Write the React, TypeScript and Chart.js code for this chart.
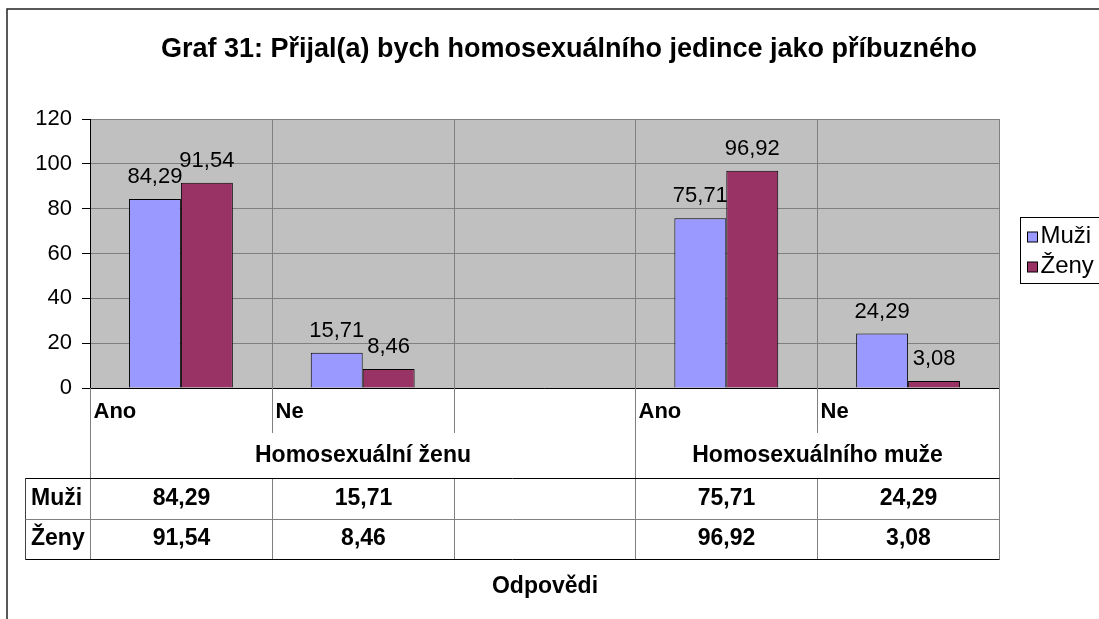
import React, { useEffect, useRef } from 'react';
import { Chart, registerables } from 'chart.js';

Chart.register(...registerables);

const title = 'Graf 31: Přijal(a) bych homosexuálního jedince jako příbuzného';
const axisTitle = 'Odpovědi';
const categories = ['Ano', 'Ne', '', 'Ano', 'Ne'];
const groupLabels = ['Homosexuální ženu', 'Homosexuálního muže'];
const groupSpans = [3, 2];
const seriesNames = ['Muži', 'Ženy'];
const muzi: (number | null)[] = [84.29, 15.71, null, 75.71, 24.29];
const zeny: (number | null)[] = [91.54, 8.46, null, 96.92, 3.08];
const seriesColors = ['#9999FF', '#993366'];
const yMin = 0;
const yMax = 120;
const yStep = 20;

const FONT = '"Liberation Sans", Arial, Helvetica, sans-serif';
const fmt = (v: number | null) => (v === null || v === undefined ? '' : v.toFixed(2).replace('.', ','));

const seriesValues = [muzi, zeny];

const decorPlugin = {
  id: 'excelDecor',
  beforeDraw(chart: any) {
    const { ctx, chartArea: a } = chart;
    ctx.save();
    ctx.fillStyle = '#ffffff';
    ctx.fillRect(0, 0, chart.width, chart.height);
    ctx.fillStyle = '#C0C0C0';
    ctx.fillRect(a.left, a.top, a.right - a.left, a.bottom - a.top);
    ctx.restore();
  },
  beforeDatasetsDraw(chart: any) {
    const { ctx, chartArea: a } = chart;
    const xs = chart.scales.x;
    const w = xs.getPixelForValue(1) - xs.getPixelForValue(0);
    const x0 = xs.getPixelForValue(0) - w / 2;
    ctx.save();
    ctx.strokeStyle = '#808080';
    ctx.lineWidth = 1;
    for (let i = 1; i < categories.length; i++) {
      const x = Math.round(x0 + i * w) + 0.5;
      ctx.beginPath();
      ctx.moveTo(x, a.top);
      ctx.lineTo(x, a.bottom);
      ctx.stroke();
    }
    ctx.restore();
  },
  afterDatasetsDraw(chart: any) {
    const { ctx } = chart;
    const ys = chart.scales.y;
    ctx.save();
    ctx.fillStyle = '#000';
    ctx.font = `22px ${FONT}`;
    ctx.textAlign = 'center';
    ctx.textBaseline = 'middle';
    chart.data.datasets.forEach((ds: any, di: number) => {
      const meta = chart.getDatasetMeta(di);
      meta.data.forEach((bar: any, i: number) => {
        const v = ds.data[i];
        if (v === null || v === undefined) return;
        const top = ys.getPixelForValue(v);
        ctx.fillText(fmt(v), bar.x, top - 22);
      });
    });
    ctx.restore();
  },
  afterDraw(chart: any) {
    const { ctx, chartArea: a } = chart;
    const xs = chart.scales.x;
    const w = xs.getPixelForValue(1) - xs.getPixelForValue(0);
    const x0 = xs.getPixelForValue(0) - w / 2;
    const bx = (i: number) => Math.round(x0 + i * w) + 0.5;

    const tableLeft = 25.5;
    const catRowBottom = 433;
    const headerLine = 478.5;
    const rowLine = 519.5;
    const tableBottom = 559.5;
    const rowCenters = [499, 539];

    ctx.save();
    // outer border
    ctx.strokeStyle = '#222';
    ctx.lineWidth = 1.5;
    ctx.beginPath();
    ctx.moveTo(7, chart.height + 2);
    ctx.lineTo(7, 9);
    ctx.lineTo(chart.width + 2, 9);
    ctx.stroke();

    // title
    ctx.fillStyle = '#000';
    ctx.font = `bold 27px ${FONT}`;
    ctx.textAlign = 'center';
    ctx.textBaseline = 'middle';
    ctx.fillText(title, 569, 50);

    // zero axis line
    ctx.strokeStyle = '#000';
    ctx.lineWidth = 1;
    ctx.beginPath();
    ctx.moveTo(a.left, Math.round(a.bottom) + 0.5);
    ctx.lineTo(a.right, Math.round(a.bottom) + 0.5);
    ctx.stroke();

    // separators
    ctx.strokeStyle = '#808080';
    const groupBounds: number[] = [0];
    groupSpans.forEach((s) => groupBounds.push(groupBounds[groupBounds.length - 1] + s));
    for (let i = 0; i <= categories.length; i++) {
      const x = bx(i);
      ctx.beginPath();
      if (groupBounds.includes(i)) {
        ctx.moveTo(x, i === categories.length ? a.top : a.bottom);
        ctx.lineTo(x, tableBottom);
      } else {
        ctx.moveTo(x, a.bottom);
        ctx.lineTo(x, catRowBottom);
        ctx.moveTo(x, headerLine);
        ctx.lineTo(x, tableBottom);
      }
      ctx.stroke();
    }
    // table left edge
    ctx.strokeStyle = '#404040';
    ctx.beginPath();
    ctx.moveTo(tableLeft, headerLine);
    ctx.lineTo(tableLeft, tableBottom);
    ctx.stroke();

    // horizontal lines
    ctx.strokeStyle = '#000';
    ctx.beginPath();
    ctx.moveTo(tableLeft, headerLine);
    ctx.lineTo(bx(categories.length), headerLine);
    ctx.stroke();
    ctx.strokeStyle = '#808080';
    ctx.beginPath();
    ctx.moveTo(tableLeft, rowLine);
    ctx.lineTo(bx(categories.length), rowLine);
    ctx.stroke();
    ctx.strokeStyle = '#000';
    ctx.beginPath();
    ctx.moveTo(tableLeft, tableBottom);
    ctx.lineTo(bx(categories.length), tableBottom);
    ctx.stroke();

    // category labels
    ctx.fillStyle = '#000';
    ctx.font = `bold 22px ${FONT}`;
    ctx.textAlign = 'left';
    categories.forEach((c, i) => {
      if (c) ctx.fillText(c, bx(i) + 3, 412);
    });

    // group labels
    ctx.font = `bold 23px ${FONT}`;
    ctx.textAlign = 'center';
    groupLabels.forEach((g, gi) => {
      const cx = (bx(groupBounds[gi]) + bx(groupBounds[gi + 1])) / 2;
      ctx.fillText(g, cx, 456);
    });

    // row headers and values
    seriesNames.forEach((name, si) => {
      ctx.font = `bold 23px ${FONT}`;
      ctx.textAlign = 'left';
      ctx.fillText(name, 31, rowCenters[si]);
      ctx.textAlign = 'center';
      seriesValues[si].forEach((v, i) => {
        const t = fmt(v);
        if (t) ctx.fillText(t, (bx(i) + bx(i + 1)) / 2, rowCenters[si]);
      });
    });

    // axis title
    ctx.font = `bold 23px ${FONT}`;
    ctx.textAlign = 'center';
    ctx.fillText(axisTitle, (bx(0) + bx(categories.length)) / 2, 587);

    // legend
    const lx = 1020.5;
    const ly = 217.5;
    ctx.strokeStyle = '#000';
    ctx.lineWidth = 1;
    ctx.strokeRect(lx, ly, 120, 66);
    const itemY = [236, 266];
    ctx.font = `24px ${FONT}`;
    ctx.textAlign = 'left';
    seriesNames.forEach((name, si) => {
      ctx.fillStyle = seriesColors[si];
      ctx.fillRect(lx + 7, itemY[si] - 4, 10, 10);
      ctx.strokeRect(lx + 7, itemY[si] - 4, 10, 10);
      ctx.fillStyle = '#000';
      ctx.fillText(name, lx + 20, itemY[si]);
    });
    ctx.restore();
  },
};

export default function App() {
  const ref = useRef<HTMLCanvasElement | null>(null);
  useEffect(() => {
    if (!ref.current) return;
    const chart = new Chart(ref.current, {
      type: 'bar',
      data: {
        labels: categories,
        datasets: seriesNames.map((name, si) => ({
          label: name,
          data: seriesValues[si],
          backgroundColor: seriesColors[si],
          borderColor: '#000',
          borderWidth: 1,
          categoryPercentage: 2 / 3.5,
          barPercentage: 1,
        })),
      },
      options: {
        responsive: false,
        animation: false,
        devicePixelRatio: 1,
        layout: { padding: { top: 119, right: 100, bottom: 231, left: 0 } },
        plugins: { legend: { display: false }, title: { display: false }, tooltip: { enabled: false } },
        scales: {
          x: { display: false },
          y: {
            min: yMin,
            max: yMax,
            afterFit: (s: any) => {
              s.width = 90;
            },
            ticks: {
              stepSize: yStep,
              color: '#000',
              font: { family: FONT, size: 22 },
              padding: 10,
              callback: (v: any) => String(v),
            },
            grid: {
              color: '#808080',
              tickColor: '#000',
              tickLength: 8,
              lineWidth: 1,
            },
            border: { color: '#000', width: 1 },
          },
        },
      },
      plugins: [decorPlugin],
    });
    return () => chart.destroy();
  }, []);
  return (
    <div style={{ position: 'absolute', left: 0, top: 0, width: 1099, height: 619 }}>
      <canvas ref={ref} width={1099} height={619} style={{ display: 'block' }} />
    </div>
  );
}
